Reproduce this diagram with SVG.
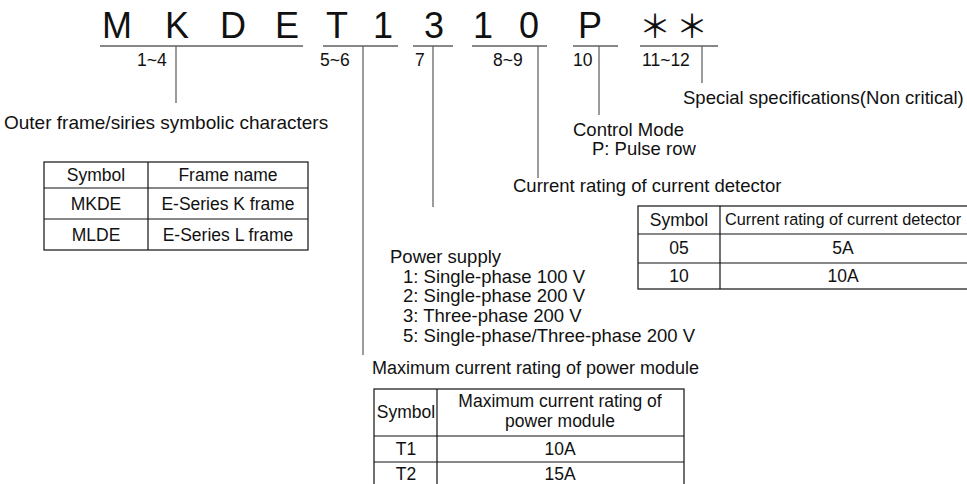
<svg xmlns="http://www.w3.org/2000/svg" width="967" height="484" viewBox="0 0 967 484">
<style>
text{font-family:"Liberation Sans",Arial,sans-serif;fill:#111}
.big{font-size:36px;text-anchor:middle}
.ast{font-family:"Noto Sans CJK JP","Noto Sans CJK SC",sans-serif;font-size:32px;text-anchor:middle}
.lbl{font-size:17.5px}
.d{font-size:18.5px}
.t{font-size:17.5px;text-anchor:middle}
.ts{font-size:16.3px;text-anchor:middle}
.ul{stroke:#111;stroke-width:1.2}
.c{stroke:#666;stroke-width:1.3;fill:none}
.tb{stroke:#111;stroke-width:1.2;fill:none}
</style>
<rect width="967" height="484" fill="#fff"/>
<g id="code">
<text class="big" x="117" y="38">M</text>
<text class="big" x="177" y="38">K</text>
<text class="big" x="233" y="38">D</text>
<text class="big" x="287" y="38">E</text>
<text class="big" x="337" y="38">T</text>
<text class="big" x="383" y="38">1</text>
<text class="big" x="434" y="38">3</text>
<text class="big" x="483" y="38">1</text>
<text class="big" x="529" y="38">0</text>
<text class="big" x="590" y="38">P</text>
<text class="ast" x="655" y="38">＊</text>
<text class="ast" x="692" y="38">＊</text>
<line class="ul" x1="100" y1="46" x2="303" y2="46"/>
<line class="ul" x1="323" y1="46" x2="398" y2="46"/>
<line class="ul" x1="413" y1="46" x2="453" y2="46"/>
<line class="ul" x1="472" y1="46" x2="547" y2="46"/>
<line class="ul" x1="573" y1="46" x2="618" y2="46"/>
<line class="ul" x1="640" y1="46" x2="718" y2="46"/>
<text class="lbl" x="137" y="66">1~4</text>
<text class="lbl" x="320" y="66">5~6</text>
<text class="lbl" x="415" y="66">7</text>
<text class="lbl" x="493" y="66">8~9</text>
<text class="lbl" x="573" y="66">10</text>
<text class="lbl" x="642" y="66">11~12</text>
</g>
<g id="connectors">
<line class="c" x1="176" y1="46" x2="176" y2="103"/>
<line class="c" x1="363" y1="46" x2="363" y2="355"/>
<line class="c" x1="433" y1="46" x2="433" y2="207"/>
<line class="c" x1="538" y1="46" x2="538" y2="178"/>
<line class="c" x1="599" y1="46" x2="599" y2="115"/>
<line class="c" x1="702" y1="46" x2="702" y2="83"/>
</g>
<g id="special">
<text class="d" x="683" y="104">Special specifications(Non critical)</text>
</g>
<g id="frame">
<text class="d" x="4" y="129" style="font-size:19px">Outer frame/siries symbolic characters</text>
<rect class="tb" x="44" y="162" width="264" height="88"/>
<line class="tb" x1="44" y1="188" x2="308" y2="188"/>
<line class="tb" x1="44" y1="219" x2="308" y2="219"/>
<line class="tb" x1="148" y1="162" x2="148" y2="250"/>
<text class="t" x="96" y="181">Symbol</text>
<text class="t" x="228" y="181">Frame name</text>
<text class="t" x="96" y="210">MKDE</text>
<text class="t" x="228" y="210">E-Series K frame</text>
<text class="t" x="96" y="241">MLDE</text>
<text class="t" x="228" y="241">E-Series L frame</text>
</g>
<g id="control">
<text class="d" x="573" y="136">Control Mode</text>
<text class="d" x="592" y="155">P: Pulse row</text>
</g>
<g id="detector">
<text class="d" x="513" y="192">Current rating of current detector</text>
<rect class="tb" x="638" y="206" width="340" height="83"/>
<line class="tb" x1="638" y1="234" x2="978" y2="234"/>
<line class="tb" x1="638" y1="263" x2="978" y2="263"/>
<line class="tb" x1="720" y1="206" x2="720" y2="289"/>
<text class="t" x="679" y="226">Symbol</text>
<text class="ts" x="843" y="225">Current rating of current detector</text>
<text class="t" x="679" y="254">05</text>
<text class="t" x="843" y="254">5A</text>
<text class="t" x="679" y="282">10</text>
<text class="t" x="843" y="282">10A</text>
</g>
<g id="power">
<text class="d" x="390" y="263">Power supply</text>
<text class="d" x="403" y="283">1: Single-phase 100 V</text>
<text class="d" x="403" y="302">2: Single-phase 200 V</text>
<text class="d" x="403" y="322">3: Three-phase 200 V</text>
<text class="d" x="403" y="342">5: Single-phase/Three-phase 200 V</text>
</g>
<g id="module">
<text class="d" x="372" y="374" style="font-size:18px">Maximum current rating of power module</text>
<rect class="tb" x="374" y="389" width="310" height="100"/>
<line class="tb" x1="374" y1="436" x2="684" y2="436"/>
<line class="tb" x1="374" y1="462" x2="684" y2="462"/>
<line class="tb" x1="437" y1="389" x2="437" y2="489"/>
<text class="t" x="406" y="418">Symbol</text>
<text class="t" x="560" y="407">Maximum current rating of</text>
<text class="t" x="560" y="427">power module</text>
<text class="t" x="406" y="455">T1</text>
<text class="t" x="560" y="455">10A</text>
<text class="t" x="406" y="480">T2</text>
<text class="t" x="560" y="480">15A</text>
</g>
</svg>
